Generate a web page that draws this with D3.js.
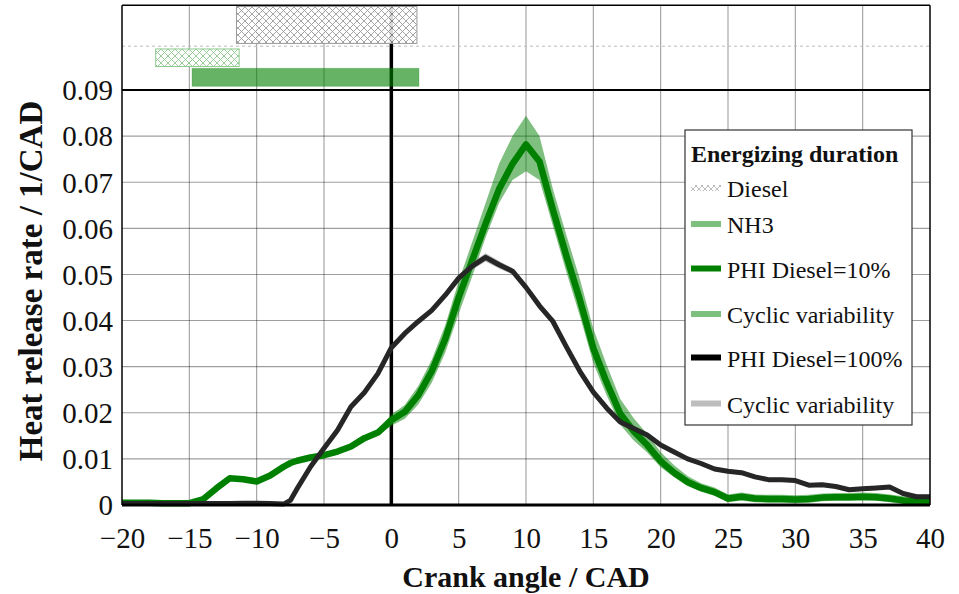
<!DOCTYPE html>
<html>
<head>
<meta charset="utf-8">
<script src="https://cdn.jsdelivr.net/npm/d3@7"></script>
<style>
  body { margin: 0; background: #fff; }
  svg { display: block; }
  text { font-family: "Liberation Serif", "Times New Roman", serif; fill: #111; }
</style>
</head>
<body>
<svg id="chart" width="959" height="594"></svg>
<script>
// Crank angle grid (CAD) shared by both heat release traces
const crankAngle = [-20,-19,-18,-17,-16,-15,-14,-13,-12,-11,-10,-9,-8,-7.5,-7,-6,-5,-4,-3,-2,-1,
  0,1,2,3,4,5,6,7,8,9,10,11,12,13,14,15,16,17,18,19,20,
  21,22,23,24,25,26,27,28,29,30,31,32,33,34,35,36,37,38,39,40];

// PHI Diesel = 10 % : mean heat release rate (1/CAD)
const hrr10 = [0.0005,0.0005,0.0005,0.0004,0.0004,0.0004,0.0012,0.0036,0.0058,0.0056,0.0051,0.0064,0.0083,0.0091,0.0096,0.0103,0.0108,0.0116,0.0127,0.0145,0.0157,
  0.0184,0.0202,0.0238,0.0290,0.0360,0.0450,0.0530,0.0610,0.0685,0.0740,0.0782,0.0745,0.0640,0.0540,0.0445,0.0340,0.0265,0.0198,0.0160,0.0130,0.0095,
  0.0070,0.0050,0.0037,0.0028,0.0014,0.0018,0.0014,0.0013,0.0013,0.0012,0.0013,0.0016,0.0017,0.0017,0.0018,0.0017,0.0014,0.0010,0.0008,0.0007];
// Cyclic variability envelope above / below the mean
const spreadUp10 = [0.0004,0.0004,0.0004,0.0004,0.0004,0.0004,0.0004,0.0005,0.0005,0.0005,0.0005,0.0005,0.0005,0.0005,0.0005,0.0005,0.0005,0.0005,0.0005,0.0006,0.0007,
  0.0012,0.0015,0.0020,0.0025,0.0030,0.0035,0.0040,0.0045,0.0055,0.0060,0.0062,0.0055,0.0045,0.0045,0.0045,0.0042,0.0038,0.0032,0.0028,0.0024,0.0020,
  0.0016,0.0013,0.0010,0.0010,0.0009,0.0009,0.0009,0.0009,0.0009,0.0009,0.0009,0.0009,0.0009,0.0009,0.0009,0.0009,0.0009,0.0009,0.0009,0.0009];
const spreadDown10 = [0.0004,0.0004,0.0004,0.0004,0.0004,0.0004,0.0004,0.0005,0.0005,0.0005,0.0005,0.0005,0.0005,0.0005,0.0005,0.0005,0.0005,0.0005,0.0005,0.0006,0.0007,
  0.0012,0.0015,0.0020,0.0025,0.0030,0.0035,0.0035,0.0030,0.0030,0.0035,0.0058,0.0040,0.0035,0.0035,0.0035,0.0032,0.0028,0.0024,0.0020,0.0016,0.0013,
  0.0010,0.0009,0.0008,0.0008,0.0008,0.0008,0.0008,0.0008,0.0008,0.0008,0.0008,0.0008,0.0008,0.0008,0.0008,0.0008,0.0008,0.0008,0.0008,0.0008];

// PHI Diesel = 100 % : mean heat release rate and cyclic half-spread (1/CAD)
const hrr100 = [0.0003,0.0003,0.0003,0.0003,0.0003,0.0003,0.0003,0.0003,0.0003,0.0004,0.0004,0.0003,0.0002,0.0010,0.0035,0.0083,0.0123,0.0162,0.0213,0.0244,0.0285,
  0.0341,0.0372,0.0398,0.0422,0.0455,0.0492,0.0518,0.0537,0.0521,0.0507,0.0472,0.0432,0.0398,0.0343,0.0290,0.0245,0.0210,0.0180,0.0166,0.0152,0.0130,
  0.0115,0.0100,0.0090,0.0078,0.0073,0.0070,0.0061,0.0055,0.0055,0.0053,0.0043,0.0044,0.0040,0.0033,0.0035,0.0037,0.0039,0.0025,0.0018,0.0018];
const spread100 = [0.0004,0.0004,0.0004,0.0004,0.0004,0.0004,0.0004,0.0004,0.0004,0.0004,0.0004,0.0004,0.0004,0.0004,0.0004,0.0004,0.0004,0.0004,0.0004,0.0004,0.0004,
  0.0004,0.0004,0.0005,0.0005,0.0006,0.0007,0.0008,0.0009,0.0008,0.0007,0.0006,0.0005,0.0005,0.0005,0.0004,0.0004,0.0004,0.0004,0.0004,0.0004,0.0004,
  0.0004,0.0004,0.0004,0.0004,0.0004,0.0004,0.0004,0.0004,0.0004,0.0004,0.0004,0.0004,0.0004,0.0004,0.0004,0.0004,0.0004,0.0004,0.0004,0.0004];

// Injector energizing windows (CAD): Diesel, NH3 cyclic spread, NH3
const energizingNames = ["Diesel", "NH3 variability", "NH3"];
const energizingStart = [-11.5, -17.5, -14.8];
const energizingEnd = [1.9, -11.3, 2.05];

// Axis ticks
const xTicks = [-20,-15,-10,-5,0,5,10,15,20,25,30,35,40];
const yTicks = [0,0.01,0.02,0.03,0.04,0.05,0.06,0.07,0.08,0.09];

// Legend entries
const legendTitle = "Energizing duration";
const legendLabels = ["Diesel","NH3","PHI Diesel=10%","Cyclic variability","PHI Diesel=100%","Cyclic variability"];

const svg = d3.select("#chart");
const plotLeft = 122, plotRight = 930, plotBottom = 505, plotTop = 90;
const x = d3.scaleLinear().domain([-20, 40]).range([plotLeft, plotRight]);
const y = d3.scaleLinear().domain([0, 0.09]).range([plotBottom, plotTop]);
const panelTop = y(0.1084);

const GREEN = "#008000", BAND_GREEN = "rgba(0,128,0,0.5)", BAR_GREEN = "rgba(0,128,0,0.6)";
const LINE_BLACK = "#262626", BAND_GRAY = "rgba(120,120,120,0.55)";

// Hatch patterns for the energizing bars
const defs = svg.append("defs");
function hatch(id, color, size, width) {
  const p = defs.append("pattern").attr("id", id).attr("patternUnits", "userSpaceOnUse")
    .attr("width", size).attr("height", size);
  p.append("rect").attr("width", size).attr("height", size).attr("fill", "#fff");
  p.append("path").attr("d", `M0,0L${size},${size}M${size},0L0,${size}M-1,${size-1}L1,${size+1}M${size-1},-1L${size+1},1`)
    .attr("stroke", color).attr("stroke-width", width).attr("fill", "none");
}
hatch("hatchGray", "#8a8a8a", 7, 0.9);
hatch("hatchGreen", "#7cc07c", 7, 0.9);
hatch("hatchGrayLegend", "#aaa", 6, 0.8);

// Grid
const grid = svg.append("g").attr("stroke", "#000").attr("stroke-opacity", 0.38).attr("stroke-width", 1.1);
grid.selectAll("line.v").data(xTicks.filter(d => d !== -20 && d !== 40 && d !== 0)).join("line")
  .attr("x1", d => x(d)).attr("x2", d => x(d)).attr("y1", panelTop).attr("y2", plotBottom);
grid.selectAll("line.h").data(yTicks.filter(d => d > 0 && d < 0.09)).join("line")
  .attr("x1", plotLeft).attr("x2", plotRight).attr("y1", d => y(d)).attr("y2", d => y(d));

// Upper panel separator (dotted)
svg.append("line").attr("x1", plotLeft).attr("x2", plotRight).attr("y1", y(0.0995)).attr("y2", y(0.0995))
  .attr("stroke", "#bbb").attr("stroke-width", 1).attr("stroke-dasharray", "3,3");

// Zero crank angle reference
svg.append("line").attr("x1", x(0)).attr("x2", x(0)).attr("y1", panelTop).attr("y2", plotBottom)
  .attr("stroke", "#000").attr("stroke-width", 3.5);

// Energizing bars
const barRows = [[0.1001, 0.1081], [0.0951, 0.0989], [0.0908, 0.0947]];
const barFill = ["url(#hatchGray)", "url(#hatchGreen)", BAR_GREEN];
const barStroke = ["#9a9a9a", "#8fcc8f", "rgba(0,128,0,0.25)"];
svg.append("g").selectAll("rect").data(energizingNames).join("rect")
  .attr("x", (d, i) => x(energizingStart[i]))
  .attr("width", (d, i) => x(energizingEnd[i]) - x(energizingStart[i]))
  .attr("y", (d, i) => y(barRows[i][1]))
  .attr("height", (d, i) => y(barRows[i][0]) - y(barRows[i][1]))
  .attr("fill", (d, i) => barFill[i])
  .attr("fill-opacity", (d, i) => i === 2 ? 1 : 0.85)
  .attr("stroke", (d, i) => barStroke[i]).attr("stroke-width", 1);

// Traces
const idx = d3.range(crankAngle.length);
const band = (mean, up, down) => d3.area()
  .x(i => x(crankAngle[i])).y0(i => y(Math.max(0, mean[i] - down[i]))).y1(i => y(mean[i] + up[i]));
const line = mean => d3.line().x(i => x(crankAngle[i])).y(i => y(mean[i]));

svg.append("path").attr("d", band(hrr10, spreadUp10, spreadDown10)(idx)).attr("fill", BAND_GREEN);
svg.append("path").attr("d", line(hrr10)(idx)).attr("fill", "none").attr("stroke", GREEN)
  .attr("stroke-width", 6.5).attr("stroke-linejoin", "round");
svg.append("path").attr("d", band(hrr100, spread100, spread100)(idx)).attr("fill", BAND_GRAY);
svg.append("path").attr("d", line(hrr100)(idx)).attr("fill", "none").attr("stroke", LINE_BLACK)
  .attr("stroke-width", 5).attr("stroke-linejoin", "round");

// Frame
const frame = svg.append("g").attr("stroke", "#000").attr("fill", "none");
frame.append("line").attr("x1", plotLeft).attr("x2", plotRight).attr("y1", plotBottom).attr("y2", plotBottom).attr("stroke-width", 3);
frame.append("line").attr("x1", plotLeft).attr("x2", plotRight).attr("y1", plotTop).attr("y2", plotTop).attr("stroke-width", 2);
frame.append("line").attr("x1", plotLeft).attr("x2", plotRight).attr("y1", panelTop).attr("y2", panelTop).attr("stroke-width", 1.5);
frame.append("line").attr("x1", plotLeft).attr("x2", plotLeft).attr("y1", panelTop).attr("y2", plotBottom).attr("stroke-width", 1.5);
frame.append("line").attr("x1", plotRight).attr("x2", plotRight).attr("y1", panelTop).attr("y2", plotBottom).attr("stroke-width", 1.5);

// Axes
const xAxis = d3.axisBottom(x).tickValues(xTicks).tickSize(0).tickPadding(0)
  .tickFormat(d => d < 0 ? "\u2212" + Math.abs(d) : String(d));
const gx = svg.append("g").attr("transform", `translate(0,${plotBottom})`).call(xAxis);
gx.attr("font-family", null);
gx.select(".domain").remove();
gx.selectAll("text").attr("y", 43).attr("dy", null).style("font-size", "29px")
  .style("font-family", '"Liberation Serif", "Times New Roman", serif').attr("fill", "#111");

const yAxis = d3.axisLeft(y).tickValues(yTicks).tickSize(0).tickPadding(0)
  .tickFormat(d => d === 0 ? "0" : d3.format(".2f")(d));
const gy = svg.append("g").attr("transform", `translate(${plotLeft - 9},0)`).call(yAxis);
gy.attr("font-family", null);
gy.select(".domain").remove();
gy.selectAll("text").attr("x", 0).attr("dy", "0.34em").style("font-size", "29px")
  .style("font-family", '"Liberation Serif", "Times New Roman", serif').attr("fill", "#111");

svg.append("text").attr("x", x(10)).attr("y", 587).attr("text-anchor", "middle")
  .style("font-size", "30px").style("font-weight", "bold").text("Crank angle / CAD");
svg.append("text").attr("transform", "translate(42,281) rotate(-90)").attr("text-anchor", "middle")
  .style("font-size", "33px").style("font-weight", "bold").text("Heat release rate / 1/CAD");

// Legend
const lg = svg.append("g");
lg.append("rect").attr("x", 685).attr("y", 130).attr("width", 227).attr("height", 295)
  .attr("fill", "#fff").attr("stroke", "#333").attr("stroke-width", 1.2);
lg.append("text").attr("x", 691).attr("y", 162).style("font-size", "24px").style("font-weight", "bold").text(legendTitle);
const rowY = [188, 224, 268.5, 314, 357.5, 403.5];
const swatchColor = [null, "#7dbf7d", GREEN, "#7dbf7d", "#000", "#bdbdbd"];
legendLabels.forEach((lab, i) => {
  if (i === 0) {
    lg.append("rect").attr("x", 691).attr("y", rowY[i] - 3).attr("width", 30).attr("height", 6)
      .attr("fill", "url(#hatchGrayLegend)");
  } else {
    lg.append("line").attr("x1", 691).attr("x2", 721).attr("y1", rowY[i]).attr("y2", rowY[i])
      .attr("stroke", swatchColor[i]).attr("stroke-width", 6);
  }
  lg.append("text").attr("x", 727).attr("y", rowY[i] + 9).style("font-size", "24px").text(lab);
});
</script>
</body>
</html>
